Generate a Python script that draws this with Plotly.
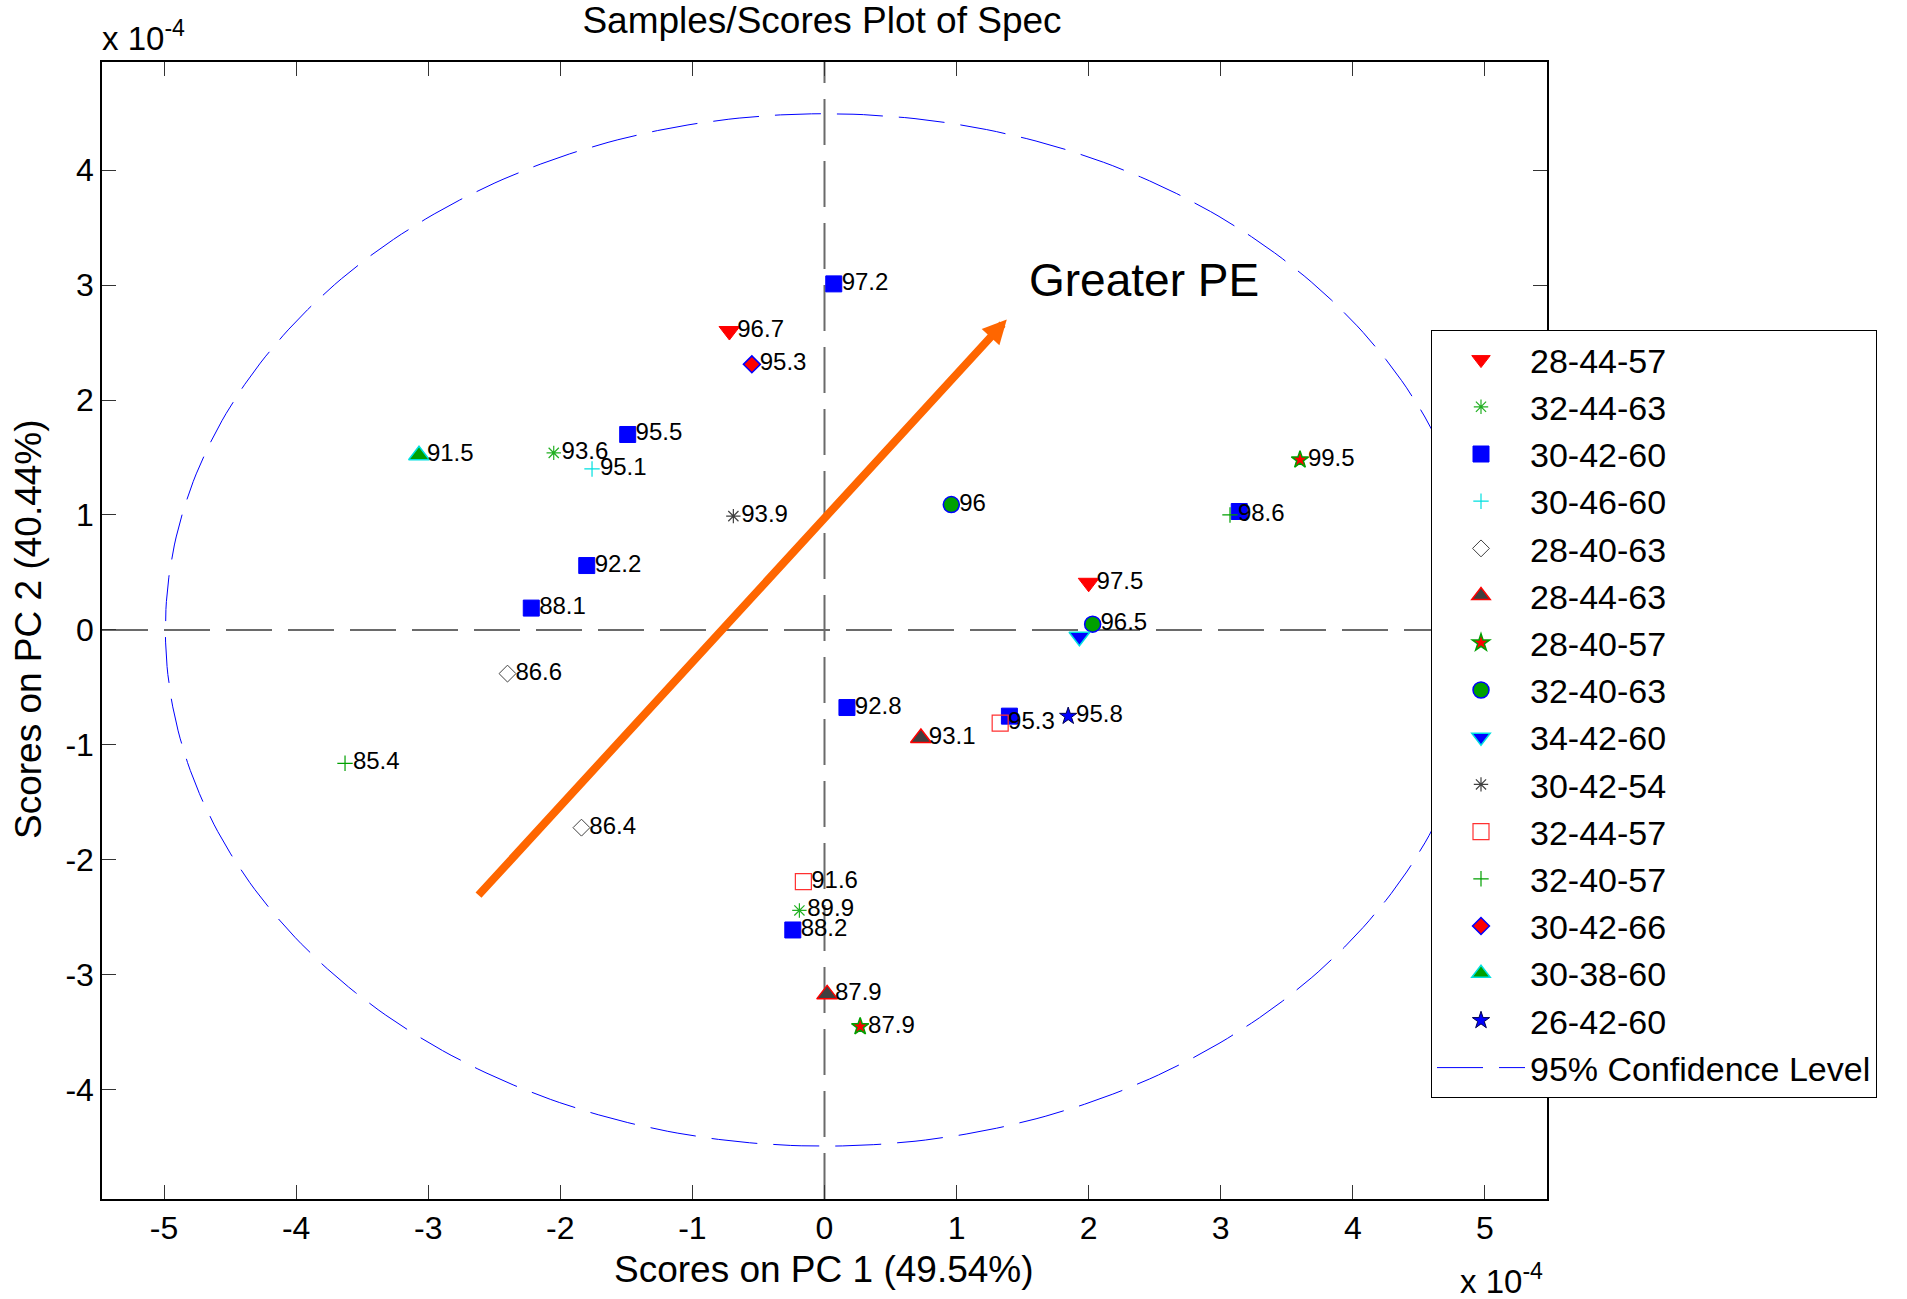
import numpy as np
import plotly.graph_objects as go

# ---------------- data: scores (units of 1e-4) ----------------
pc1_284457 = [-0.72, 2.00]
pc2_284457 = [2.60, 0.41]
lab_284457 = ["96.7", "97.5"]

pc1_324463 = [-2.05, -0.19]
pc2_324463 = [1.54, -2.44]
lab_324463 = ["93.6", "89.9"]

pc1_304260 = [0.07, -1.49, -1.80, -2.22, 0.17, 1.40, -0.24, 3.14]
pc2_304260 = [3.01, 1.70, 0.56, 0.19, -0.675, -0.75, -2.61, 1.03]
lab_304260 = ["97.2", "95.5", "92.2", "88.1", "92.8", "", "88.2", ""]

pc1_304660 = [-1.76]
pc2_304660 = [1.40]
lab_304660 = ["95.1"]

pc1_284063 = [-2.40, -1.84]
pc2_284063 = [-0.38, -1.72]
lab_284063 = ["86.6", "86.4"]

pc1_284463 = [0.73, 0.02]
pc2_284463 = [-0.94, -3.17]
lab_284463 = ["93.1", "87.9"]

pc1_284057 = [3.60, 0.27]
pc2_284057 = [1.48, -3.45]
lab_284057 = ["99.5", "87.9"]

pc1_324063 = [0.96, 2.03]
pc2_324063 = [1.09, 0.05]
lab_324063 = ["96", "96.5"]

pc1_344260 = [1.93]
pc2_344260 = [-0.06]
lab_344260 = [""]

pc1_304254 = [-0.69]
pc2_304254 = [0.99]
lab_304254 = ["93.9"]

pc1_324457 = [1.33, -0.16]
pc2_324457 = [-0.81, -2.19]
lab_324457 = ["95.3", "91.6"]

pc1_324057 = [-3.63, 3.07]
pc2_324057 = [-1.16, 1.00]
lab_324057 = ["85.4", "98.6"]

pc1_304266 = [-0.55]
pc2_304266 = [2.31]
lab_304266 = ["95.3"]

pc1_303860 = [-3.07]
pc2_303860 = [1.52]
lab_303860 = ["91.5"]

pc1_264260 = [1.845]
pc2_264260 = [-0.75]
lab_264260 = ["95.8"]

# confidence ellipse (center and semi-axes, units of 1e-4)
ellipse_center = [0.0, 0.0]
ellipse_axes = [4.99, 4.49]

# arrow (tail, tip) in units of 1e-4
arrow_tail = [-2.63, -2.32]
arrow_tip = [1.38, 2.70]

x_ticks = [-5, -4, -3, -2, -1, 0, 1, 2, 3, 4, 5]
y_ticks = [-4, -3, -2, -1, 0, 1, 2, 3, 4]

series = [
    ("28-44-57", pc1_284457, pc2_284457, lab_284457),
    ("32-44-63", pc1_324463, pc2_324463, lab_324463),
    ("30-42-60", pc1_304260, pc2_304260, lab_304260),
    ("30-46-60", pc1_304660, pc2_304660, lab_304660),
    ("28-40-63", pc1_284063, pc2_284063, lab_284063),
    ("28-44-63", pc1_284463, pc2_284463, lab_284463),
    ("28-40-57", pc1_284057, pc2_284057, lab_284057),
    ("32-40-63", pc1_324063, pc2_324063, lab_324063),
    ("34-42-60", pc1_344260, pc2_344260, lab_344260),
    ("30-42-54", pc1_304254, pc2_304254, lab_304254),
    ("32-44-57", pc1_324457, pc2_324457, lab_324457),
    ("32-40-57", pc1_324057, pc2_324057, lab_324057),
    ("30-42-66", pc1_304266, pc2_304266, lab_304266),
    ("30-38-60", pc1_303860, pc2_303860, lab_303860),
    ("26-42-60", pc1_264260, pc2_264260, lab_264260),
]

# ---------------- styles ----------------
GREEN = "#00A000"
CYAN = "#00E0E0"
styles = {
    "28-44-57": dict(symbol="triangle-down", color="#FF0000", lc="#FF0000", lw=1, size=18),
    "32-44-63": dict(symbol="asterisk-open", color="#22B022", lc="#22B022", lw=1.2, size=12),
    "30-42-60": dict(symbol="square", color="#0000FF", lc="#0000FF", lw=1, size=16),
    "30-46-60": dict(symbol="cross-thin-open", color=CYAN, lc=CYAN, lw=1.2, size=11),
    "28-40-63": dict(symbol="diamond-open", color="#404040", lc="#404040", lw=1, size=13),
    "28-44-63": dict(symbol="triangle-up", color="#404040", lc="#FF0000", lw=1.5, size=18),
    "28-40-57": dict(symbol="star", color="#FF0000", lc=GREEN, lw=1.5, size=13),
    "32-40-63": dict(symbol="circle", color=GREEN, lc="#0000FF", lw=1.5, size=16),
    "34-42-60": dict(symbol="triangle-down", color="#0000FF", lc=CYAN, lw=1.5, size=18),
    "30-42-54": dict(symbol="asterisk-open", color="#404040", lc="#404040", lw=1.2, size=12),
    "32-44-57": dict(symbol="square-open", color="#FF3030", lc="#FF3030", lw=1.2, size=16),
    "32-40-57": dict(symbol="cross-thin-open", color=GREEN, lc=GREEN, lw=1.2, size=11),
    "30-42-66": dict(symbol="diamond", color="#FF0000", lc="#0000FF", lw=1.5, size=13),
    "30-38-60": dict(symbol="triangle-up", color=GREEN, lc=CYAN, lw=1.5, size=18),
    "26-42-60": dict(symbol="star", color="#0000FF", lc="#000050", lw=1, size=13),
}

FONT = "Liberation Sans, Arial, Helvetica, sans-serif"
W, H = 1907, 1299
ML, MR, MT, MB = 102, 360, 62, 100
PW, PH = W - ML - MR, H - MT - MB


def px(xp):
    return (xp - ML) / PW


def py(yp):
    return (H - MB - yp) / PH


fig = go.Figure()

for name, xs, ys, labs in series:
    st = styles[name]
    fig.add_trace(go.Scatter(
        x=xs, y=ys, mode="markers", name=name,
        marker=dict(symbol=st["symbol"], color=st["color"], size=st["size"],
                    line=dict(color=st["lc"], width=st["lw"])),
        hoverinfo="skip",
    ))

# confidence ellipse
t = np.linspace(0, 2 * np.pi, 400)
fig.add_trace(go.Scatter(
    x=ellipse_center[0] + ellipse_axes[0] * np.cos(t),
    y=ellipse_center[1] + ellipse_axes[1] * np.sin(t),
    mode="lines", name="95% Confidence Level",
    line=dict(color="#0000FF", width=1, dash="46px,16px"),
    hoverinfo="skip",
))

# point labels (drawn on top of all markers); unlabeled points skipped
lx, ly, lt = [], [], []
for name, xs, ys, labs in series:
    for xv, yv, tv in zip(xs, ys, labs):
        if tv:
            lx.append(xv)
            ly.append(yv)
            lt.append(tv)
fig.add_trace(go.Scatter(
    x=lx, y=ly, text=lt, mode="markers+text", textposition="middle right",
    marker=dict(size=11, color="rgba(0,0,0,0)"),
    textfont=dict(family=FONT, size=24, color="black"),
    showlegend=False, hoverinfo="skip",
))

dash_grey = dict(color="#6A6A6A", width=2, dash="46px,16px")
fig.add_shape(type="line", xref="paper", yref="y", x0=0, x1=1, y0=0, y1=0, line=dash_grey, layer="below")
fig.add_shape(type="line", xref="x", yref="paper", x0=0, x1=0, y0=0, y1=1, line=dash_grey, layer="below")

annotations = [
    dict(x=arrow_tip[0], y=arrow_tip[1], ax=arrow_tail[0], ay=arrow_tail[1],
         xref="x", yref="y", axref="x", ayref="y", text="", showarrow=True,
         arrowhead=2, arrowsize=0.6, arrowwidth=8, arrowcolor="#FF6600"),
    dict(x=px(1027), y=py(280), xref="paper", yref="paper", text="Greater PE",
         showarrow=False, xanchor="left", yanchor="middle",
         font=dict(family=FONT, size=46, color="black")),
    dict(x=px(100), y=py(36), xref="paper", yref="paper", text="x 10<sup>-4</sup>",
         showarrow=False, xanchor="left", yanchor="middle",
         font=dict(family=FONT, size=33, color="black")),
    dict(x=px(1458), y=py(1279), xref="paper", yref="paper", text="x 10<sup>-4</sup>",
         showarrow=False, xanchor="left", yanchor="middle",
         font=dict(family=FONT, size=33, color="black")),
    dict(x=px(824), y=py(1269), xref="paper", yref="paper", text="Scores on PC 1 (49.54%)",
         showarrow=False, xanchor="center", yanchor="middle",
         font=dict(family=FONT, size=37, color="black")),
    dict(x=px(28), y=py(629), xref="paper", yref="paper", text="Scores on PC 2 (40.44%)",
         showarrow=False, xanchor="center", yanchor="middle", textangle=-90,
         font=dict(family=FONT, size=37, color="black")),
]

axis_common = dict(
    ticks="inside", ticklen=14, tickwidth=1, tickcolor="#333333",
    showline=True, linecolor="black", linewidth=1.5, mirror="ticks",
    showgrid=False, zeroline=False,
    tickfont=dict(family=FONT, size=32, color="black"),
)

fig.update_layout(
    width=W, height=H,
    margin=dict(l=ML, r=MR, t=MT, b=MB, autoexpand=False),
    paper_bgcolor="white", plot_bgcolor="white",
    title=dict(text="Samples/Scores Plot of Spec", x=822 / W,
               xanchor="center", y=1 - 20 / H, yanchor="middle", yref="container",
               font=dict(family=FONT, size=37, color="black")),
    xaxis=dict(range=[-5.47, 5.47], tickvals=x_ticks, ticktext=[str(v) for v in x_ticks], **axis_common),
    yaxis=dict(range=[-4.95, 4.94], tickvals=y_ticks, ticktext=[str(v) for v in y_ticks], **axis_common),
    legend=dict(x=px(1431), y=py(330), xanchor="left", yanchor="top",
                bgcolor="white", bordercolor="black", borderwidth=1,
                font=dict(family=FONT, size=34, color="black"), itemwidth=88,
                tracegroupgap=0),
    annotations=annotations,
    showlegend=True,
)

fig.write_html("out.html")
